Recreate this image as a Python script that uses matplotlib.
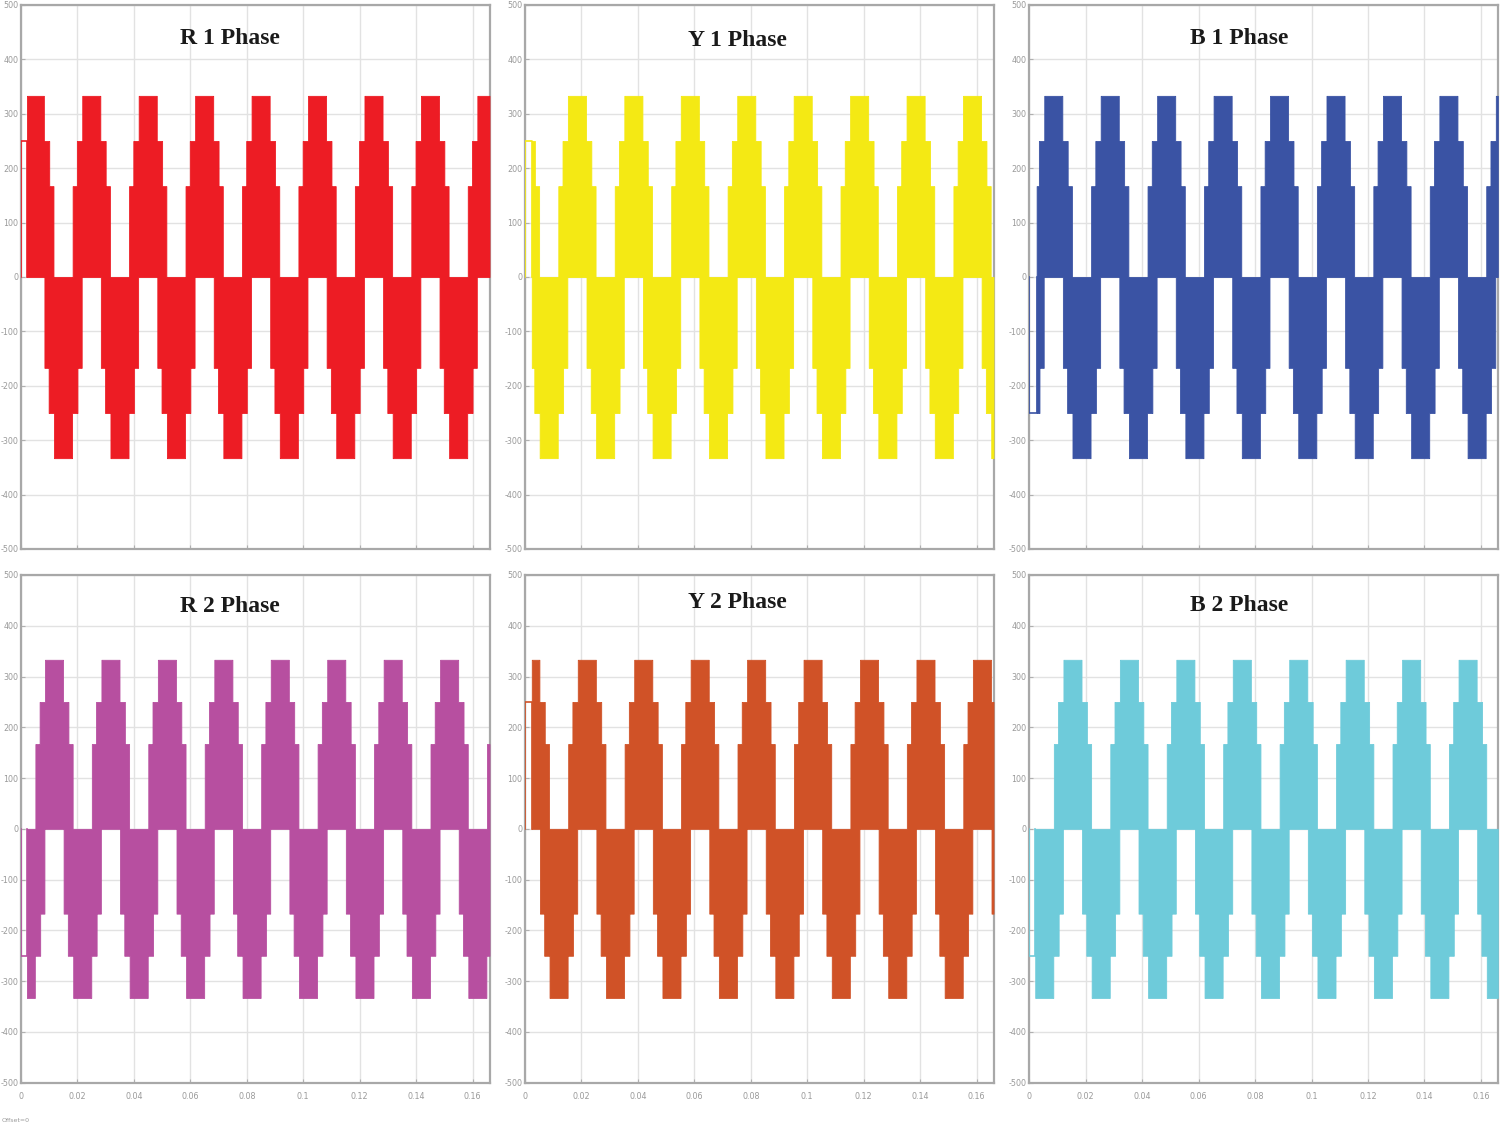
import numpy as np
import matplotlib
matplotlib.use("Agg")
import matplotlib.pyplot as plt

# phase panels, row by row
titles = ["R 1 Phase", "Y 1 Phase", "B 1 Phase", "R 2 Phase", "Y 2 Phase", "B 2 Phase"]
colors = ["#ED1C24", "#F4E914", "#3A53A4", "#B74FA0", "#D05227", "#6ECBDA"]

# time of the first positive peak of each panel (s)
peak_t = [0.0049, 0.0184, 0.0085, 0.0117, 0.0019, 0.0153]
# start-up hold before switching begins: (end time, level)
hold_t = [0.0021, 0.0024, 0.0026, 0.0021, 0.0024, 0.0020]
hold_v = [250, 250, -250, -250, 250, -250]

# one lobe of the staircase: level and half-width around the peak (s)
step_levels = [167, 250, 333]
step_halfw = [0.0066, 0.0051, 0.0032]
period = 0.02
t_end = 0.166

xticks = [0, 0.02, 0.04, 0.06, 0.08, 0.1, 0.12, 0.14, 0.16]
xticklabels = ["0", "0.02", "0.04", "0.06", "0.08", "0.1", "0.12", "0.14", "0.16"]
yticks = [500, 400, 300, 200, 100, 0, -100, -200, -300, -400, -500]

# title position inside each axes (axes fraction)
title_xy = [(0.446, 0.939), (0.453, 0.935), (0.447, 0.938),
            (0.446, 0.937), (0.453, 0.945), (0.447, 0.939)]

W, H = 1500, 1125
fig = plt.figure(figsize=(W / 100, H / 100), dpi=100)

col_left = [21, 525, 1029.3]
col_w = 468.5
rows = [(5, 549), (575, 1082.7)]


def envelope(t, tp):
    # staircase envelope of a lobe centred on tp, repeated each period
    d = np.abs(((t - tp + period / 2) % period) - period / 2)
    env = np.zeros_like(t)
    for lev, hw in zip(step_levels, step_halfw):
        env = np.where(d <= hw, lev, env)
    return env


t = np.linspace(0, t_end, 60001)
for i in range(6):
    r, c = divmod(i, 3)
    top, bot = rows[r]
    ax = fig.add_axes([col_left[c] / W, 1 - bot / H, col_w / W, (bot - top) / H])

    upper = envelope(t, peak_t[i])
    lower = -envelope(t, peak_t[i] + period / 2)
    m = t >= hold_t[i]
    ax.fill_between(t[m], lower[m], upper[m], color=colors[i], lw=0.6, zorder=3)
    th = hold_t[i]
    ax.plot([0, 0, th, th], [0, hold_v[i], hold_v[i], 0], color=colors[i], lw=1.2, zorder=3)

    ax.set_xlim(0, t_end)
    ax.set_ylim(-500, 500)
    ax.set_yticks(yticks)
    ax.set_yticklabels([str(v) for v in yticks])
    ax.set_xticks(xticks)
    if r == 1:
        ax.set_xticklabels(xticklabels)
    else:
        ax.set_xticklabels([])
    ax.grid(True, color="#e2e2e2", lw=1.0, zorder=0)
    ax.set_axisbelow(True)
    ax.tick_params(direction="in", length=3, color="#b0b0b0", labelsize=5.8,
                   labelcolor="#9a9a9a")
    ax.tick_params(axis="y", pad=2)
    ax.tick_params(axis="x", pad=7)
    for sp in ax.spines.values():
        sp.set_color("#a8a8a8")
        sp.set_linewidth(1.6)

    ax.text(title_xy[i][0], title_xy[i][1], titles[i], transform=ax.transAxes,
            ha="center", va="center", fontsize=17, fontweight="bold",
            family="Liberation Serif", color="#1a1a1a", zorder=5)

fig.text(2 / W, 1 - 1120 / H, "Offset=0", fontsize=4.5, color="#9a9a9a",
         ha="left", va="center")

fig.savefig("out.png", dpi=100)
